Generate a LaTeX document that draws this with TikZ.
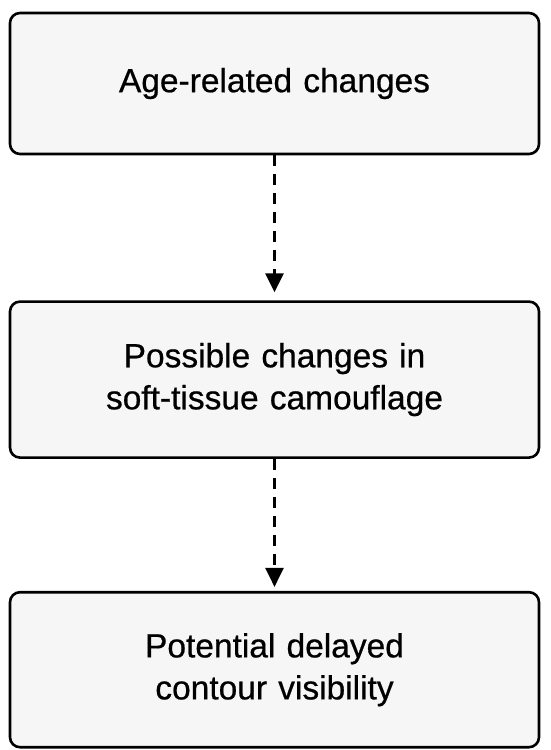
\documentclass[tikz,border=0pt]{standalone}
\usepackage{fontspec}
\setmainfont{Liberation Sans}
\newfontfamily\boxfont[FakeBold=0.6]{Liberation Sans}
\usepackage{xcolor}
\usepackage{tikz}
\usetikzlibrary{arrows.meta, positioning}
\definecolor{boxfill}{HTML}{F6F6F6}
\tikzstyle{stage} = [rectangle, rounded corners=10pt, minimum width=529pt, text width=490pt, align=center, draw=black, line width=2.6pt, fill=boxfill, font=\boxfont\fontsize{33.5}{42}\selectfont]
\tikzstyle{arrow} = [line width=2.6pt, dash pattern=on 11pt off 8pt, -{Triangle[width=18pt,length=19pt]}]

\begin{document}
\begin{tikzpicture}[x=1pt, y=1pt]
			
			\useasboundingbox (0,0) rectangle (550,-750);
			
			\node (age_changes) [stage, minimum height=141pt] at (274.5,-83.5) {Age-related changes};
			
			\node (camouflage) [stage, minimum height=156pt, below=145pt of age_changes] {Possible changes in\\soft-tissue camouflage};
			
			\node (visibility) [stage, minimum height=155pt, below=132pt of camouflage] {Potential delayed\\contour visibility};
			
			
			\draw [arrow, shorten >=8pt] (age_changes) -- (camouflage);
			\draw [arrow, shorten >=4pt] (camouflage) -- (visibility);
			
		\end{tikzpicture}
\end{document}
